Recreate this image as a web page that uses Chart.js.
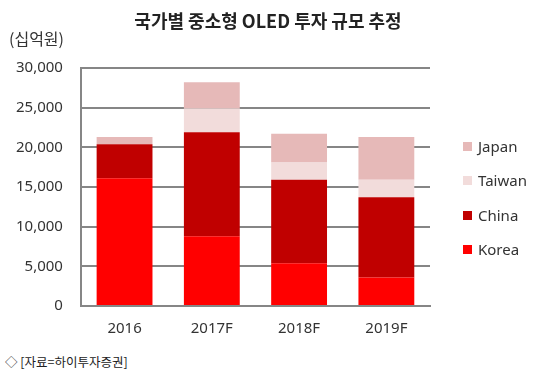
<!DOCTYPE html>
<html>
<head>
<meta charset="utf-8">
<script src="https://cdn.jsdelivr.net/npm/chart.js@4"></script>
<style>
  body { margin: 0; background: #fff; font-family: "Noto Sans CJK KR", "Noto Sans", sans-serif; }
  #wrap { position: relative; width: 541px; height: 376px; }
  .title { position: absolute; top: 7px; left: 0; width: 536px; text-align: center; font-size: 18px; font-weight: bold; color: #222; }
  .unit { position: absolute; top: 26px; left: 9px; font-size: 16px; color: #333; }
  .source { position: absolute; top: 352px; left: 5px; font-size: 12.5px; color: #222; }
  #box { position: absolute; left: 0; top: 0; width: 541px; height: 344px; }
  #legend { position: absolute; left: 463px; top: 136px; font-family: "Noto Sans", sans-serif; font-size: 15px; color: #333; }
  #legend .item { height: 34.3px; display: flex; align-items: flex-start; }
  #legend .sw { width: 9px; height: 9px; margin-top: 6px; margin-right: 6px; }
</style>
</head>
<body>
<div id="wrap">
  <div id="box"><canvas id="chart"></canvas></div>
  <div class="title">국가별 중소형 OLED 투자 규모 추정</div>
  <div class="unit">(십억원)</div>
  <div id="legend"></div>
  <div class="source">◇ [자료=하이투자증권]</div>
</div>
<script>
  // Data (십억원)
  const years = ["2016", "2017F", "2018F", "2019F"];
  const korea = [16100, 8800, 5400, 3600];
  const china = [4300, 13100, 10500, 10100];
  const taiwan = [0, 3000, 2200, 2200];
  const japan = [900, 3300, 3600, 5400];
  const yTicks = [0, 5000, 10000, 15000, 20000, 25000, 30000];

  const gridGray = "#868686";

  document.addEventListener("DOMContentLoaded", function () {
    const ctx = document.getElementById("chart").getContext("2d");
    const chart = new Chart(ctx, {
      type: "bar",
      data: {
        labels: years,
        datasets: [
          { label: "Korea", data: korea, backgroundColor: "#ff0000" },
          { label: "China", data: china, backgroundColor: "#c00000" },
          { label: "Taiwan", data: taiwan, backgroundColor: "#f2dcdb" },
          { label: "Japan", data: japan, backgroundColor: "#e6b9b8" },
        ],
      },
      options: {
        responsive: true,
        maintainAspectRatio: false,
        animation: false,
        layout: { padding: { top: 68, left: -2, right: 111, bottom: 0 } },
        datasets: { bar: { categoryPercentage: 0.64, barPercentage: 1 } },
        scales: {
          x: {
            stacked: true,
            grid: { display: false },
            border: { display: true, color: gridGray, width: 2 },
            ticks: { color: "#333", font: { family: "Noto Sans", size: 15 }, padding: 6 },
          },
          y: {
            stacked: true,
            min: 0,
            max: 30000,
            afterBuildTicks: function (axis) {
              axis.ticks = yTicks.map((v) => ({ value: v }));
            },
            grid: { color: gridGray, lineWidth: 2, drawTicks: false },
            border: { display: true, color: gridGray, width: 2 },
            ticks: {
              color: "#333",
              font: { family: "Noto Sans", size: 15 },
              padding: 18,
              callback: (v) => v.toLocaleString("en-US"),
            },
          },
        },
        plugins: {
          legend: { display: false },
          tooltip: { enabled: false },
        },
      },
    });

    // Legend in reverse order, built from the chart's datasets
    const legend = document.getElementById("legend");
    chart.data.datasets.slice().reverse().forEach((ds) => {
      const item = document.createElement("div");
      item.className = "item";
      item.innerHTML = '<span class="sw" style="background:' + ds.backgroundColor + '"></span><span>' + ds.label + "</span>";
      legend.appendChild(item);
    });
  });
</script>
</body>
</html>
